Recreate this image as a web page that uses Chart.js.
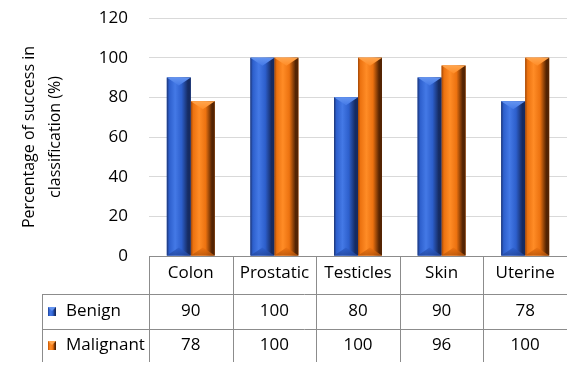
<!DOCTYPE html>
<html><head><meta charset="utf-8">
<script src="https://cdn.jsdelivr.net/npm/chart.js@4"></script>
<style>html,body{margin:0;padding:0;background:#fff}#wrap{width:584px;height:377px;position:relative}</style>
</head><body><div id="wrap"><canvas id="c" width="584" height="377"></canvas></div>
<script>
const categories = ['Colon','Prostatic','Testicles','Skin','Uterine'];
const seriesNames = ['Benign','Malignant'];
const benign = [90,100,80,90,78];
const malignant = [78,100,100,96,100];
const yMin = 0, yMax = 120, yStep = 20;
const yTitle = ['Percentage of success in','classification (%)'];

const FONT = '"Open Sans", Lato, sans-serif';
const palettes = [
  {edge:'#1c3474', mid:'#2d5fcc', light:'#4479e6', dark:'#162b62', top:'#6494f0', bottom:'#22469c'},
  {edge:'#a04606', mid:'#ec7210', light:'#ff8c26', dark:'#542403', top:'#ffa54e', bottom:'#b85509'}
];

function bodyGrad(ctx, x0, x1, p){
  const g = ctx.createLinearGradient(x0,0,x1,0);
  g.addColorStop(0, p.edge);
  g.addColorStop(0.1, p.mid);
  g.addColorStop(0.35, p.light);
  g.addColorStop(0.62, p.mid);
  g.addColorStop(0.88, p.dark);
  g.addColorStop(1, p.dark);
  return g;
}

const bevelPlugin = {
  id:'bevel',
  afterDatasetsDraw(chart){
    const ctx = chart.ctx;
    chart.data.datasets.forEach((ds, di)=>{
      const p = palettes[di];
      chart.getDatasetMeta(di).data.forEach(el=>{
        const x0 = el.x - el.width/2, x1 = el.x + el.width/2;
        const top = Math.min(el.y, el.base), bot = Math.max(el.y, el.base);
        const d = Math.min(8, (bot-top)/2);
        ctx.save();
        ctx.fillStyle = bodyGrad(ctx, x0, x1, p);
        ctx.fillRect(x0, top, x1-x0, bot-top);
        const gt = ctx.createLinearGradient(0, top, 0, top+d);
        gt.addColorStop(0, p.top); gt.addColorStop(1, p.light);
        ctx.fillStyle = gt;
        ctx.beginPath(); ctx.moveTo(x0, top); ctx.lineTo(x1, top); ctx.lineTo(el.x, top+d); ctx.closePath(); ctx.fill();
        const gb = ctx.createLinearGradient(0, bot-d, 0, bot);
        gb.addColorStop(0, p.mid); gb.addColorStop(1, p.bottom);
        ctx.fillStyle = gb;
        ctx.globalAlpha = 0.8;
        ctx.beginPath(); ctx.moveTo(x0, bot); ctx.lineTo(x1, bot); ctx.lineTo(el.x, bot-d); ctx.closePath(); ctx.fill();
        ctx.restore();
      });
    });
  }
};

const tablePlugin = {
  id:'dataTable',
  afterDraw(chart){
    const ctx = chart.ctx;
    const xs = chart.scales.x;
    const ca = chart.chartArea;
    const catW = xs.getPixelForValue(1) - xs.getPixelForValue(0);
    const rowTop = ca.bottom, row1 = ca.bottom + 38, row2 = ca.bottom + 73, rowEnd = ca.bottom + 106;
    const legLeft = 42;
    ctx.save();
    ctx.strokeStyle = '#8c8c8c';
    ctx.lineWidth = 1;
    ctx.beginPath();
    for (let i = 0; i < categories.length; i++) {
      const x = Math.round(xs.getPixelForValue(i) - catW/2) + 0.5;
      ctx.moveTo(x, rowTop); ctx.lineTo(x, rowEnd);
    }
    ctx.moveTo(legLeft+0.5, row1); ctx.lineTo(legLeft+0.5, rowEnd);
    ctx.moveTo(legLeft, row1+0.5); ctx.lineTo(ca.right, row1+0.5);
    ctx.moveTo(legLeft, row2+0.5); ctx.lineTo(ca.right, row2+0.5);
    ctx.moveTo(ca.left, rowTop+0.5); ctx.lineTo(ca.right, rowTop+0.5);
    ctx.stroke();

    const rows = [benign, malignant];
    const centers = [(row1+row2)/2, (row2+rowEnd)/2];
    ctx.font = '17px ' + FONT;
    ctx.textBaseline = 'middle';
    rows.forEach((vals, r)=>{
      const cy = centers[r];
      const p = palettes[r];
      const kx = 48, ky = Math.round(cy) - 5, kw = 8, kh = 9;
      ctx.fillStyle = bodyGrad(ctx, kx, kx+kw, p);
      ctx.fillRect(kx, ky, kw, kh);
      ctx.fillStyle = p.top;
      ctx.beginPath(); ctx.moveTo(kx, ky); ctx.lineTo(kx+kw, ky); ctx.lineTo(kx+kw/2, ky+4); ctx.closePath(); ctx.fill();
      ctx.fillStyle = '#000';
      ctx.textAlign = 'left';
      ctx.fillText(seriesNames[r], 66, cy);
      ctx.textAlign = 'center';
      vals.forEach((v, i)=>{
        ctx.fillText(String(v), xs.getPixelForValue(i), cy);
      });
    });
    ctx.restore();
  }
};

new Chart(document.getElementById('c'), {
  type:'bar',
  data:{
    labels: categories,
    datasets:[
      {label: seriesNames[0], data: benign, backgroundColor: palettes[0].mid, borderWidth:0},
      {label: seriesNames[1], data: malignant, backgroundColor: palettes[1].mid, borderWidth:0}
    ]
  },
  options:{
    responsive:false,
    animation:false,
    devicePixelRatio:1,
    layout:{padding:{top:18, right:17, left:0, bottom:0}},
    datasets:{bar:{barPercentage:1, categoryPercentage:0.574}},
    plugins:{legend:{display:false}, tooltip:{enabled:false}},
    scales:{
      x:{
        grid:{display:false, drawTicks:false},
        border:{display:false},
        ticks:{font:{family:FONT, size:17}, color:'#000', padding:7, maxRotation:0},
        afterFit(s){ s.height = 121; }
      },
      y:{
        min:yMin, max:yMax,
        grid:{color:(c)=> c.tick && c.tick.value === 0 ? '#8c8c8c' : '#d9d9d9', drawTicks:false},
        border:{display:false},
        ticks:{stepSize:yStep, font:{family:FONT, size:17}, color:'#000', padding:21},
        title:{display:true, text:yTitle, font:{family:FONT, size:16, lineHeight:1.6}, color:'#000', padding:{top:17, bottom:0}},
        afterFit(s){ s.width = 149; s.paddingTop = 0; s.paddingBottom = 0; }
      }
    }
  },
  plugins:[bevelPlugin, tablePlugin]
});
</script>
</body></html>
